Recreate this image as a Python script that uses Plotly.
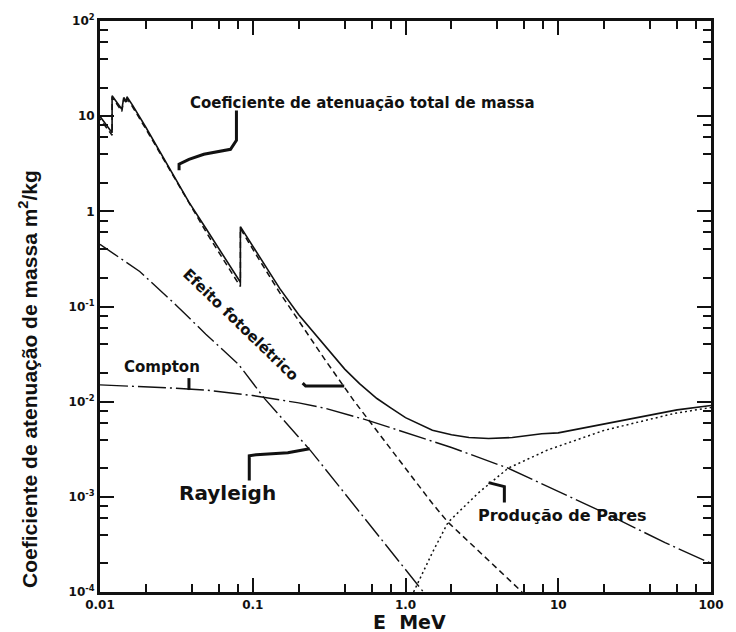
import plotly.graph_objects as go

# ---- Mass attenuation coefficients (m^2/kg) versus photon energy (MeV) ----
energy_total = [0.0096, 0.0120, 0.0120, 0.0139, 0.0143, 0.0150, 0.0150, 0.0164,
                0.020, 0.030, 0.0382, 0.050, 0.060, 0.070, 0.083, 0.083, 0.100,
                0.150, 0.200, 0.300, 0.400, 0.500, 0.650, 0.800, 1.0, 1.5, 2.0,
                2.6, 3.5, 5.0, 7.8, 10.0, 20.0, 35.0, 60.0, 100.0]
mu_total = [10.9, 6.7, 16.4, 11.8, 15.7, 14.2, 16.0, 12.9,
            7.6, 2.5, 1.25, 0.64, 0.405, 0.276, 0.180, 0.69, 0.43,
            0.155, 0.082, 0.0375, 0.022, 0.0155, 0.0108, 0.0086, 0.0068, 0.0050, 0.0045,
            0.0042, 0.0041, 0.0042, 0.0046, 0.0047, 0.0058, 0.0070, 0.0082, 0.0091]

energy_photo = [0.0096, 0.0120, 0.0120, 0.0139, 0.0143, 0.0150, 0.0150, 0.0164,
                0.020, 0.030, 0.050, 0.070, 0.083, 0.083, 0.100, 0.150, 0.200,
                0.300, 0.460, 0.700, 1.0, 1.5, 1.9, 3.0, 4.0, 5.8]
mu_photo = [10.2, 6.3, 15.8, 11.2, 15.0, 13.8, 15.4, 12.4,
            7.3, 2.38, 0.59, 0.25, 0.162, 0.66, 0.40, 0.140, 0.070,
            0.027, 0.0102, 0.0042, 0.0020, 8.5e-4, 5.4e-4, 2.7e-4, 1.75e-4, 1.0e-4]

energy_compton = [0.010, 0.020, 0.030, 0.050, 0.100, 0.200, 0.300, 0.560, 1.0,
                  2.0, 4.7, 10.0, 20.0, 50.0, 100.0]
mu_compton = [0.0150, 0.0144, 0.0139, 0.0132, 0.0116, 0.0097, 0.0085, 0.0064, 0.0047,
              0.0033, 0.0020, 0.00115, 0.00068, 0.00033, 0.00020]

energy_rayleigh = [0.010, 0.0182, 0.0297, 0.0493, 0.0805, 0.120, 0.239, 0.500, 1.0, 1.31]
mu_rayleigh = [0.45, 0.233, 0.113, 0.0512, 0.0248, 0.0107, 0.00306, 7.0e-4, 1.75e-4, 1.0e-4]

energy_pair = [1.13, 1.5, 1.9, 3.0, 4.7, 8.5, 20.0, 57.0, 100.0]
mu_pair = [1.0e-4, 2.6e-4, 5.4e-4, 1.1e-3, 2.0e-3, 3.1e-3, 5.0e-3, 7.5e-3, 8.7e-3]

x_tickvals = [0.01, 0.1, 1, 10, 100]
x_ticktext = ["0.01", "0.1", "1.0", "10", "100"]
y_tickvals = [1e-4, 1e-3, 1e-2, 1e-1, 1, 10, 100]
y_ticktext = ["10<sup>-4</sup>", "10<sup>-3</sup>", "10<sup>-2</sup>", "10<sup>-1</sup>",
              "1", "10", "10<sup>2</sup>"]

INK = "#111111"
BOLD = "DejaVu Sans, Verdana, sans-serif"
NARROW = "Liberation Sans, Arial, sans-serif"

fig = go.Figure()


def curve(x, y, dash, width=1.5):
    fig.add_trace(go.Scatter(x=x, y=y, mode="lines", showlegend=False,
                             line=dict(color=INK, width=width, dash=dash)))


curve(energy_total, mu_total, "solid", 1.6)
curve(energy_photo, mu_photo, "6px,4px", 1.5)
curve(energy_compton, mu_compton, "28px,4px,2px,4px", 1.4)
curve(energy_rayleigh, mu_rayleigh, "22px,4px,2px,4px", 1.4)
curve(energy_pair, mu_pair, "2px,3px", 1.5)

# minor tick positions at 2, 4, 6, 8 of every decade
x_minor = [m * 10.0 ** d for d in range(-2, 2) for m in (2, 4, 6, 8)]
y_minor = [m * 10.0 ** d for d in range(-4, 2) for m in (2, 4, 6, 8)]

axis_common = dict(
    type="log", showgrid=False, zeroline=False,
    showline=True, linewidth=3, linecolor=INK, mirror="allticks",
    ticks="inside", ticklen=14, tickwidth=2, tickcolor=INK,
    tickfont=dict(family=BOLD, size=12, color=INK, weight="bold"),
)

fig.update_xaxes(range=[-2, 2], tickmode="array", tickvals=x_tickvals, ticktext=x_ticktext,
                 minor=dict(tickmode="array", tickvals=x_minor, ticks="inside",
                            ticklen=8, tickwidth=2, tickcolor=INK),
                 **axis_common)
fig.update_yaxes(range=[-4, 2], tickmode="array", tickvals=y_tickvals, ticktext=y_ticktext,
                 minor=dict(tickmode="array", tickvals=y_minor, ticks="inside",
                            ticklen=8, tickwidth=2, tickcolor=INK),
                 **axis_common)


def label(text, x, y, size, xanchor="left", angle=0, family=BOLD):
    fig.add_annotation(text=text, x=x, y=y, xref="paper", yref="paper",
                       xanchor=xanchor, yanchor="middle", showarrow=False,
                       textangle=angle,
                       font=dict(family=family, size=size, color=INK, weight="bold"))


label("Coeficiente de atenuação total de massa", 0.144, 0.857, 15)
label("Compton", 0.0356, 0.3946, 15)
label("Rayleigh", 0.1262, 0.1742, 20)
label("Produção de Pares", 0.6149, 0.1341, 16)
label("Efeito fotoelétrico", 0.2306, 0.4678, 15, xanchor="center", angle=44)
label("E  MeV", 0.5073, -0.0523, 19, xanchor="center")
label("Coeficiente de atenuação de massa m<sup>2</sup>/kg", -0.1181, 0.3728, 21,
      xanchor="center", angle=-90, family=NARROW)

# leader lines joining the labels to their curves (paper coordinates)
leaders = [
    "M0.2233,0.8432 L0.2233,0.7909 L0.2136,0.7753 L0.1699,0.7666 L0.1456,0.7578 "
    "L0.1294,0.7491 L0.1294,0.7387",
    "M0.3317,0.3659 L0.3366,0.3606 L0.3997,0.3606",
    "M0.1456,0.3746 L0.1456,0.3537",
    "M0.2443,0.1951 L0.2443,0.2387 L0.2557,0.2404 L0.3074,0.2439 L0.3430,0.2509",
    "M0.6359,0.1916 L0.6618,0.1846 L0.6618,0.1568",
]
for p in leaders:
    fig.add_shape(type="path", path=p, xref="paper", yref="paper",
                  line=dict(color=INK, width=3))

fig.update_layout(
    width=736, height=632,
    margin=dict(l=100, r=18, t=18, b=40),
    paper_bgcolor="white", plot_bgcolor="white",
)

fig.write_html("out.html")
